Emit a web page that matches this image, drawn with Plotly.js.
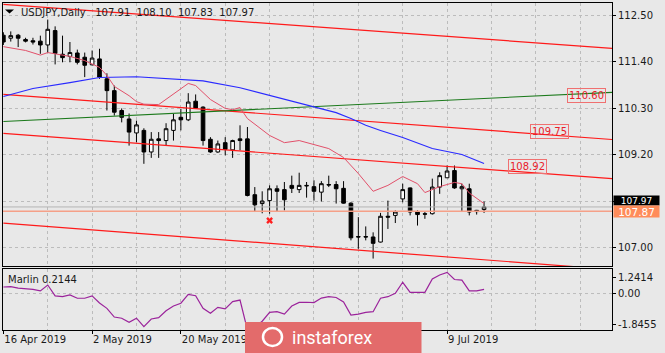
<!DOCTYPE html>
<html><head><meta charset="utf-8">
<script src="https://cdn.plot.ly/plotly-3.0.1.min.js"></script>
<style>html,body{margin:0;padding:0;background:#e8e8e8;}#chart{width:665px;height:353px;}</style>
</head><body><div id="chart"></div>
<script>
// ---- data (bar index 0 = 16 Apr 2019) ----
const opens  = [112.03,111.96,112.03,111.93,111.90,111.89,111.80,112.14,111.58,111.53,111.61,111.51,111.33,111.47,111.00,110.72,110.25,110.05,109.72,109.78,109.27,109.58,109.54,109.78,110.09,110.03,110.47,110.33,109.57,109.27,109.49,109.32,109.58,109.58,108.26,108.05,108.12,108.40,108.38,108.48,108.38,108.48,108.45,108.32,108.50,108.50,108.41,108.06,107.27,107.27,107.26,107.14,107.75,107.77,108.16,108.42,107.86,107.81,107.81,108.44,108.66,108.83,108.40,108.40,107.89,107.91];
const highs  = [112.10,112.12,112.06,111.97,111.97,112.02,112.40,112.24,112.02,111.87,111.69,111.62,111.67,111.71,111.13,110.84,110.30,110.18,110.01,109.83,109.74,109.74,109.95,110.17,110.29,110.66,110.63,110.35,109.62,109.54,109.62,109.56,109.90,109.86,108.44,108.34,108.48,108.48,108.56,108.71,108.78,108.56,108.60,108.58,108.71,108.58,108.58,108.08,107.73,107.51,107.37,107.83,108.12,107.89,108.52,108.43,107.89,107.85,108.64,108.79,108.95,108.95,108.52,108.52,107.90,108.10];
const lows   = [111.80,111.88,111.75,111.86,111.81,111.59,111.62,111.34,111.39,111.39,111.34,111.04,111.32,111.00,110.25,110.13,109.97,109.42,109.50,108.99,109.13,109.13,109.42,109.54,109.78,110.00,110.29,109.42,109.25,109.25,109.19,109.13,109.31,108.22,107.85,107.82,107.81,107.85,107.89,108.30,108.30,108.19,108.12,108.10,108.44,108.05,108.05,107.18,106.98,107.18,106.75,107.13,107.45,107.59,108.08,107.77,107.53,107.69,107.79,108.28,108.66,108.40,107.85,107.77,107.79,107.83];
const closes = [111.87,112.02,111.96,111.89,111.87,111.80,112.17,111.60,111.50,111.62,111.39,111.32,111.49,111.04,110.72,110.21,110.09,109.74,109.91,109.27,109.57,109.54,109.82,110.03,110.03,110.45,110.31,109.54,109.27,109.46,109.33,109.54,109.54,108.24,108.02,108.11,108.40,108.34,108.14,108.41,108.48,108.47,108.34,108.52,108.49,108.40,108.06,107.24,107.26,107.26,107.11,107.75,107.73,107.85,108.38,107.85,107.79,107.80,108.44,108.71,108.82,108.42,108.45,107.85,107.86,107.97];

const marlin = [0.33,0.35,0.27,0.23,0.21,0.13,0.43,-0.12,-0.16,-0.07,-0.24,-0.24,-0.12,-0.48,-0.75,-1.19,-1.25,-1.46,-1.25,-1.68,-1.29,-1.22,-0.87,-0.63,-0.49,-0.04,-0.11,-0.75,-1.00,-0.70,-0.78,-0.41,-0.33,-1.84,-1.70,-1.40,-0.95,-0.92,-1.04,-0.63,-0.45,-0.44,-0.46,-0.23,-0.16,-0.20,-0.43,-1.09,-1.04,-0.95,-0.92,-0.24,-0.16,0.01,0.57,0.06,0.06,0.06,0.74,0.94,1.07,0.71,0.68,0.13,0.13,0.2144];

const blueBars = [0,4,9,13,18,22,27,32,36,40,42,45,47,49,51,54,58,62,65];
const blueVals = [110.58,110.77,110.91,111.03,111.05,111.00,110.95,110.79,110.61,110.42,110.33,110.20,110.06,109.90,109.78,109.61,109.35,109.21,109.00];

const pinkBars = [0,3,5,6,9,11,13,14,15,17,18,19,21,22,24,25,26,28,30,31,32,33,36,38,40,41,44,46,48,50,52,54,56,57,59,61,62,63,65];
const pinkVals = [111.76,111.67,111.56,111.62,111.53,111.43,111.27,111.08,110.82,110.60,110.46,110.40,110.39,110.51,110.77,110.89,110.84,110.51,110.30,110.27,110.32,110.06,109.66,109.49,109.54,109.49,109.35,109.14,108.76,108.34,108.48,108.69,108.52,108.31,108.45,108.55,108.52,108.30,108.05];

const lineBars   = [0, 82.3];
const chanTop    = [112.76, 111.72];
const chanMid    = [110.63, 109.565];
const chanLow    = [109.71, 108.64];
const chanBottom = [107.59, 106.49];
const greenLine  = [109.99, 110.68];

const levelValues = [107.87, 107.97];
const markBars = [36];
const markVals = [107.65];

const priceLabels  = ['110.60', '109.75', '108.92'];
const priceLabelX  = [78.8, 73.9, 70.9];

const dateTickBars   = [0, 12, 24, 60];
const dateTickLabels = ['16 Apr 2019', '2 May 2019', '20 May 2019', '9 Jul 2019'];
const priceTicks     = [107.00, 108.10, 109.20, 110.30, 111.40, 112.50];
const priceTickText  = ['107.00', '', '109.20', '110.30', '111.40', '112.50']; // 108.10 sits behind the price tags
const marlinTickPos  = [0.836, 0, -1.542];
const marlinTickText = ['1.2414', '0.00', '-1.8455'];

// ---- geometry ----
const L = 3, T = 3, W = 609, H = 327;
const px = X => (X - L) / W;
const py = Y => (T + H - Y) / H;
const FONT = 'DejaVu Sans';
const gridCol = '#bcbcbc';
const bars = opens.map((_, i) => i);
const gridBars = [];
for (let b = 0; b <= 82; b += 6) gridBars.push(b);

const traces = [
  {type:'candlestick', x:bars, open:opens, high:highs, low:lows, close:closes,
   xaxis:'x', yaxis:'y', whiskerwidth:0, hoverinfo:'skip',
   increasing:{line:{color:'#000', width:1}, fillcolor:'#ffffff'},
   decreasing:{line:{color:'#000', width:1}, fillcolor:'#000000'}},
  {type:'scatter', mode:'lines', x:lineBars, y:chanTop, line:{color:'#ff1a1a', width:1.2}, xaxis:'x', yaxis:'y'},
  {type:'scatter', mode:'lines', x:lineBars, y:chanMid, line:{color:'#ff1a1a', width:1.2}, xaxis:'x', yaxis:'y'},
  {type:'scatter', mode:'lines', x:lineBars, y:chanLow, line:{color:'#ff1a1a', width:1.2}, xaxis:'x', yaxis:'y'},
  {type:'scatter', mode:'lines', x:lineBars, y:chanBottom, line:{color:'#ff1a1a', width:1.2}, xaxis:'x', yaxis:'y'},
  {type:'scatter', mode:'lines', x:lineBars, y:greenLine, line:{color:'#1c7a1c', width:1.1}, xaxis:'x', yaxis:'y'},
  {type:'scatter', mode:'lines', x:blueBars, y:blueVals, line:{color:'#2a2aff', width:1.1}, xaxis:'x', yaxis:'y'},
  {type:'scatter', mode:'lines', x:pinkBars, y:pinkVals, line:{color:'#e2506a', width:1}, xaxis:'x', yaxis:'y'},
  {type:'scatter', mode:'markers', x:markBars, y:markVals, marker:{symbol:'x', size:6, color:'#ff2020', line:{width:0}}, xaxis:'x', yaxis:'y'},
  {type:'scatter', mode:'lines', x:bars, y:marlin, line:{color:'#9b239b', width:1.2}, xaxis:'x2', yaxis:'y2'}
];

const axisCommon = {showline:true, mirror:true, linecolor:'#000', linewidth:1, zeroline:false,
  tickfont:{family:FONT, size:10, color:'#1a1a1a'}, automargin:false, fixedrange:true};

const layout = {
  width:665, height:353,
  margin:{l:L, r:665 - L - W, t:T, b:353 - T - H},
  paper_bgcolor:'#e8e8e8', plot_bgcolor:'#e8e8e8',
  showlegend:false, hovermode:false,
  xaxis:Object.assign({}, axisCommon, {domain:[0,1], anchor:'y', range:[-0.05, 82.3],
    tickmode:'array', tickvals:gridBars, showticklabels:false, ticks:'',
    showgrid:true, gridcolor:gridCol, griddash:'3px,3px', gridwidth:1,
    rangeslider:{visible:false}}),
  xaxis2:Object.assign({}, axisCommon, {domain:[0,1], anchor:'y2', matches:'x',
    tickmode:'array', tickvals:dateTickBars, ticktext:dateTickLabels,
    ticks:'outside', ticklen:3, tickcolor:'#000', ticklabelposition:'outside right',
    showgrid:true, gridcolor:gridCol, griddash:'3px,3px',
    minor:{tickmode:'linear', tick0:0, dtick:6, showgrid:true, gridcolor:gridCol, griddash:'3px,3px', ticks:''},
    rangeslider:{visible:false}}),
  yaxis:Object.assign({}, axisCommon, {domain:[(H + T - 266) / H, 1], anchor:'x', side:'right',
    range:[106.574, 112.792], tickmode:'array', tickvals:priceTicks, ticktext:priceTickText,
    ticks:'outside', ticklen:3, tickcolor:'#000',
    showgrid:true, gridcolor:gridCol, griddash:'3px,3px'}),
  yaxis2:Object.assign({}, axisCommon, {domain:[0, (H + T - 269) / H], anchor:'x2', side:'right',
    range:[-1.8455, 1.2414], tickmode:'array', tickvals:marlinTickPos, ticktext:marlinTickText,
    ticks:'outside', ticklen:3, tickcolor:'#000', showgrid:false}),
  shapes:[
    {type:'line', xref:'x2 domain', x0:0, x1:1, yref:'y2', y0:0, y1:0, line:{color:gridCol, width:1, dash:'3px,3px'}, layer:'below'},
    {type:'line', xref:'x domain', x0:0, x1:1, yref:'y', y0:levelValues[1], y1:levelValues[1], line:{color:'#b4b4b4', width:1}},
    {type:'line', xref:'x domain', x0:0, x1:1, yref:'y', y0:levelValues[0], y1:levelValues[0], line:{color:'#f5a088', width:1.6}},
    {type:'path', xref:'paper', yref:'paper', path:`M ${px(5)} ${py(9.5)} L ${px(14)} ${py(9.5)} L ${px(9.5)} ${py(13.5)} Z`, fillcolor:'#000', line:{width:0}, layer:'above'},
    {type:'rect', xref:'paper', yref:'paper', x0:px(245), x1:px(421.5), y0:py(322), y1:py(354), fillcolor:'#e36b6b', line:{width:0}, layer:'above'},
    {type:'circle', xref:'paper', yref:'paper', x0:px(263), x1:px(282), y0:py(346), y1:py(328), line:{color:'#ffffff', width:2.5}, layer:'above'}
  ],
  annotations:[
    {xref:'paper', yref:'paper', x:px(19), y:py(12.5), xanchor:'left', yanchor:'middle', showarrow:false,
     text:'USDJPY,Daily\u00a0\u00a0\u00a0107.91\u00a0\u00a0108.10\u00a0\u00a0107.83\u00a0\u00a0107.97', font:{family:FONT, size:10, color:'#1a1a1a'}},
    {xref:'paper', yref:'paper', x:px(5.5), y:py(279), xanchor:'left', yanchor:'middle', showarrow:false,
     text:'Marlin 0.2144', font:{family:FONT, size:10, color:'#1a1a1a'}},
    ...priceLabels.map((t, i) => ({xref:'x', yref:'y', x:priceLabelX[i], y:parseFloat(t), xanchor:'center', yanchor:'middle',
      showarrow:false, text:t, font:{family:FONT, size:10, color:'#e8202a'}, bordercolor:'#f07070', borderwidth:1, borderpad:1})),
    {xref:'paper', yref:'y', x:1, xshift:1, y:levelValues[1], yshift:6, xanchor:'left', yanchor:'middle', showarrow:false,
     text:'107.97', width:45, height:9, align:'center', bgcolor:'#000', borderpad:0, font:{family:FONT, size:9, color:'#fff'}},
    {xref:'paper', yref:'y', x:1, xshift:1, y:levelValues[0], xanchor:'left', yanchor:'middle', showarrow:false,
     text:'107.87', width:45, height:11, align:'center', bgcolor:'#ff8c5a', borderpad:0, font:{family:FONT, size:10.5, color:'#fff'}},
    {xref:'paper', yref:'paper', x:px(332), y:py(337), xanchor:'center', yanchor:'middle', showarrow:false,
     text:'instaforex', font:{family:'Roboto', size:18, color:'#ffffff'}}
  ]
};

Plotly.newPlot('chart', traces, layout, {staticPlot:true, displayModeBar:false});
</script></body></html>
